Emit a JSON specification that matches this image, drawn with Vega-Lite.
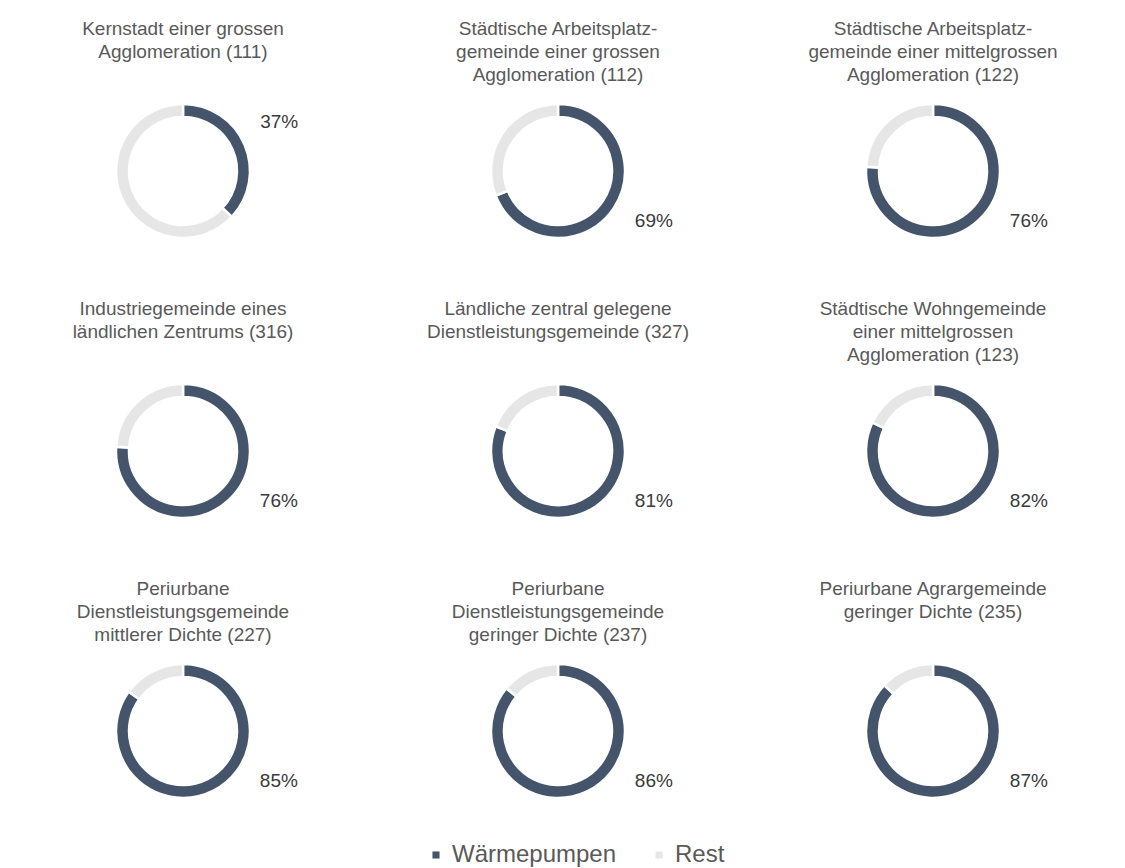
{
  "$schema": "https://vega.github.io/schema/vega-lite/v6.json",
  "background": "white",
  "padding": {"left": 8, "top": 20, "right": 5, "bottom": 5},
  "data": {"values": [
    {"Typ": "Kernstadt einer grossen|Agglomeration (111)| ", "Kategorie": "Wärmepumpen", "Anteil": 0.37},
    {"Typ": "Kernstadt einer grossen|Agglomeration (111)| ", "Kategorie": "Rest", "Anteil": 0.63},
    {"Typ": "Städtische Arbeitsplatz-|gemeinde einer grossen|Agglomeration (112)", "Kategorie": "Wärmepumpen", "Anteil": 0.69},
    {"Typ": "Städtische Arbeitsplatz-|gemeinde einer grossen|Agglomeration (112)", "Kategorie": "Rest", "Anteil": 0.31},
    {"Typ": "Städtische Arbeitsplatz-|gemeinde einer mittelgrossen|Agglomeration (122)", "Kategorie": "Wärmepumpen", "Anteil": 0.76},
    {"Typ": "Städtische Arbeitsplatz-|gemeinde einer mittelgrossen|Agglomeration (122)", "Kategorie": "Rest", "Anteil": 0.24},
    {"Typ": "Industriegemeinde eines|ländlichen Zentrums (316)| ", "Kategorie": "Wärmepumpen", "Anteil": 0.76},
    {"Typ": "Industriegemeinde eines|ländlichen Zentrums (316)| ", "Kategorie": "Rest", "Anteil": 0.24},
    {"Typ": "Ländliche zentral gelegene|Dienstleistungsgemeinde (327)| ", "Kategorie": "Wärmepumpen", "Anteil": 0.81},
    {"Typ": "Ländliche zentral gelegene|Dienstleistungsgemeinde (327)| ", "Kategorie": "Rest", "Anteil": 0.19},
    {"Typ": "Städtische Wohngemeinde|einer mittelgrossen|Agglomeration (123)", "Kategorie": "Wärmepumpen", "Anteil": 0.82},
    {"Typ": "Städtische Wohngemeinde|einer mittelgrossen|Agglomeration (123)", "Kategorie": "Rest", "Anteil": 0.18},
    {"Typ": "Periurbane|Dienstleistungsgemeinde|mittlerer Dichte (227)", "Kategorie": "Wärmepumpen", "Anteil": 0.85},
    {"Typ": "Periurbane|Dienstleistungsgemeinde|mittlerer Dichte (227)", "Kategorie": "Rest", "Anteil": 0.15},
    {"Typ": "Periurbane|Dienstleistungsgemeinde|geringer Dichte (237)", "Kategorie": "Wärmepumpen", "Anteil": 0.86},
    {"Typ": "Periurbane|Dienstleistungsgemeinde|geringer Dichte (237)", "Kategorie": "Rest", "Anteil": 0.14},
    {"Typ": "Periurbane Agrargemeinde|geringer Dichte (235)| ", "Kategorie": "Wärmepumpen", "Anteil": 0.87},
    {"Typ": "Periurbane Agrargemeinde|geringer Dichte (235)| ", "Kategorie": "Rest", "Anteil": 0.13}
  ]},
  "facet": {
    "field": "Typ",
    "type": "nominal",
    "sort": [
      "Kernstadt einer grossen|Agglomeration (111)| ",
      "Städtische Arbeitsplatz-|gemeinde einer grossen|Agglomeration (112)",
      "Städtische Arbeitsplatz-|gemeinde einer mittelgrossen|Agglomeration (122)",
      "Industriegemeinde eines|ländlichen Zentrums (316)| ",
      "Ländliche zentral gelegene|Dienstleistungsgemeinde (327)| ",
      "Städtische Wohngemeinde|einer mittelgrossen|Agglomeration (123)",
      "Periurbane|Dienstleistungsgemeinde|mittlerer Dichte (227)",
      "Periurbane|Dienstleistungsgemeinde|geringer Dichte (237)",
      "Periurbane Agrargemeinde|geringer Dichte (235)| "
    ],
    "header": {
      "title": null,
      "labelExpr": "split(datum.value, '|')",
      "labelFont": "Liberation Sans",
      "labelFontSize": 19,
      "labelColor": "#595959",
      "labelLineHeight": 23,
      "labelBaseline": "top",
      "labelPadding": 0
    }
  },
  "columns": 3,
  "spacing": {"column": 25, "row": 43},
  "spec": {
    "width": 350,
    "height": 172,
    "layer": [
      {
        "mark": {"type": "arc", "innerRadius": 54, "outerRadius": 67, "stroke": "white", "strokeWidth": 2.5},
        "encoding": {
          "theta": {"field": "Anteil", "type": "quantitative", "stack": true},
          "color": {
            "field": "Kategorie",
            "type": "nominal",
            "scale": {"domain": ["Wärmepumpen", "Rest"], "range": ["#44546A", "#E7E6E6"]},
            "legend": {
              "title": null,
              "orient": "none",
              "legendX": 416,
              "legendY": 758,
              "direction": "horizontal",
              "symbolType": "square",
              "symbolSize": 50,
              "symbolStrokeWidth": 0,
              "labelFont": "Liberation Sans",
              "labelFontSize": 24,
              "labelColor": "#595959",
              "labelLimit": 400,
              "columnPadding": 30,
              "labelOffset": 4
            }
          },
          "order": {"field": "Kategorie", "sort": "descending"}
        }
      },
      {
        "transform": [{"filter": "datum.Kategorie == 'Wärmepumpen' && datum.Anteil < 0.5"}],
        "mark": {"type": "text", "theta": 1.1, "radius": 108, "font": "Liberation Sans", "fontSize": 19, "color": "#3a3a3a", "align": "center", "baseline": "middle"},
        "encoding": {
          "text": {"field": "Anteil", "type": "quantitative", "format": ".0%"}
        }
      },
      {
        "transform": [{"filter": "datum.Kategorie == 'Wärmepumpen' && datum.Anteil >= 0.5"}],
        "mark": {"type": "text", "theta": 2.05, "radius": 108, "font": "Liberation Sans", "fontSize": 19, "color": "#3a3a3a", "align": "center", "baseline": "middle"},
        "encoding": {
          "text": {"field": "Anteil", "type": "quantitative", "format": ".0%"}
        }
      }
    ]
  },
  "config": {"view": {"stroke": null}}
}
